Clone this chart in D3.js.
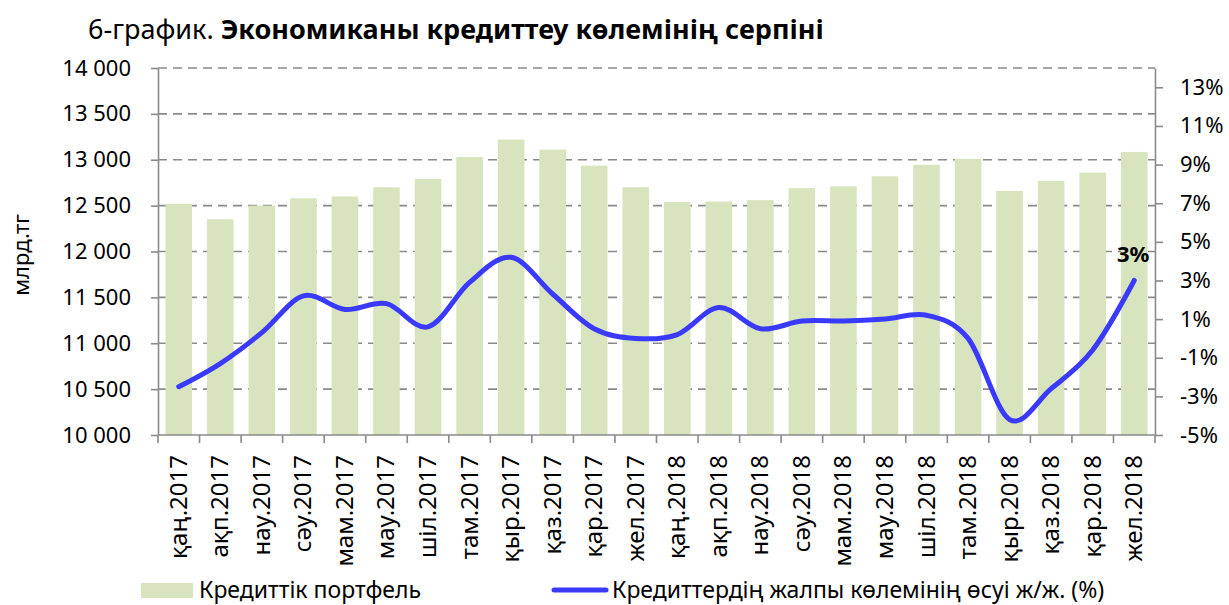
<!DOCTYPE html>
<html>
<head>
  <script src="https://d3js.org/d3.v7.min.js"></script>
  <meta charset="utf-8">
  <title>6-график</title>
  <style>
    body {margin: 0; background: #fff; font-family: "Noto Sans", sans-serif;}
    .grid line {stroke: #8a8a8a; stroke-width: 1.6; stroke-dasharray: 9,6;}
    .axis path, .axis line {stroke: #8a8a8a; stroke-width: 1.6;}
    .axis text {font-family: "Noto Sans", sans-serif; font-size: 21px; fill: #000;}
  </style>
</head>
<body>
<div id="chart"></div>
<script>
  /* Data */
  const categories = ["қаң.2017","ақп.2017","нау.2017","сәу.2017","мам.2017","мау.2017",
                      "шіл.2017","там.2017","қыр.2017","қаз.2017","қар.2017","жел.2017",
                      "қаң.2018","ақп.2018","нау.2018","сәу.2018","мам.2018","мау.2018",
                      "шіл.2018","там.2018","қыр.2018","қаз.2018","қар.2018","жел.2018"];
  const portfolio = [12520, 12350, 12500, 12580, 12600, 12700, 12790, 13030, 13220, 13110, 12935, 12700,
                     12540, 12545, 12560, 12690, 12710, 12820, 12945, 13010, 12660, 12770, 12860, 13085];
  const growth = [-2.5, -1.3, 0.3, 2.2, 1.5, 1.8, 0.6, 2.9, 4.2, 2.3, 0.5, 0.0,
                  0.2, 1.6, 0.5, 0.9, 0.9, 1.0, 1.2, 0.0, -4.2, -2.6, -0.6, 3.0];
  const leftTicks = [10000, 10500, 11000, 11500, 12000, 12500, 13000, 13500, 14000];
  const rightTicks = [-5, -3, -1, 1, 3, 5, 7, 9, 11, 13];

  const W = 1229, H = 605;
  const margin = {top: 68, right: 74, bottom: 170, left: 158};
  const width = W - margin.left - margin.right;
  const height = H - margin.top - margin.bottom;

  const svg = d3.select("#chart").append("svg")
      .attr("width", W).attr("height", H);

  /* Title */
  const title = svg.append("text")
      .attr("x", 88).attr("y", 39)
      .style("font-size", "27px");
  title.append("tspan").text("6-график. ");
  title.append("tspan").style("font-weight", "bold").text("Экономиканы кредиттеу көлемінің серпіні");

  const g = svg.append("g").attr("transform", `translate(${margin.left},${margin.top})`);

  /* Scales */
  const x = d3.scaleBand().domain(categories).range([0, width]).paddingInner(0.36).paddingOuter(0.18);
  const band = d3.scaleBand().domain(categories).range([0, width]);
  const yL = d3.scaleLinear().domain([10000, 14000]).range([height, 0]);
  const yR = d3.scaleLinear().domain([-5, 14]).range([height, 0]);

  /* Grid lines behind the bars */
  g.append("g").attr("class", "grid")
    .selectAll("line").data(leftTicks.slice(1)).join("line")
      .attr("x1", 0).attr("x2", width)
      .attr("y1", d => yL(d)).attr("y2", d => yL(d));

  /* Bars */
  g.append("g").selectAll("rect").data(portfolio).join("rect")
      .attr("x", (d, i) => x(categories[i]))
      .attr("y", d => yL(d))
      .attr("width", x.bandwidth())
      .attr("height", d => height - yL(d))
      .attr("fill", "#d7e4bd");

  /* Axes */
  const fmt = d => d3.format(",")(d).replace(",", " ");
  const left = g.append("g").attr("class", "axis")
      .call(d3.axisLeft(yL).tickValues(leftTicks).tickFormat(fmt).tickSize(7).tickSizeOuter(0).tickPadding(20));
  left.selectAll("text").style("font-size", "22px");

  const right = g.append("g").attr("class", "axis")
      .attr("transform", `translate(${width},0)`)
      .call(d3.axisRight(yR).tickValues(rightTicks).tickFormat(d => d + "%").tickSize(8).tickSizeOuter(0).tickPadding(17));
  right.selectAll("text").style("font-size", "22px");

  const bottom = g.append("g").attr("class", "axis")
      .attr("transform", `translate(0,${height})`);
  bottom.append("line").attr("x1", 0).attr("x2", width);
  bottom.selectAll(".tk").data(d3.range(categories.length + 1)).join("line")
      .attr("class", "tk")
      .attr("x1", i => i * band.step()).attr("x2", i => i * band.step())
      .attr("y1", 0).attr("y2", 8);
  bottom.selectAll("text").data(categories).join("text")
      .attr("transform", d => `translate(${band(d) + band.bandwidth() / 2 + 8},20) rotate(-90)`)
      .attr("text-anchor", "end")
      .style("font-size", "24px")
      .text(d => d);

  /* Left axis title */
  svg.append("text")
      .attr("transform", "translate(29,255) rotate(-90)")
      .attr("text-anchor", "middle")
      .style("font-size", "22px")
      .text("млрд.тг");

  /* Growth line */
  const line = d3.line()
      .x((d, i) => band(categories[i]) + band.bandwidth() / 2)
      .y(d => yR(d))
      .curve(d3.curveCardinal.tension(0));
  g.append("path").datum(growth)
      .attr("d", line)
      .attr("fill", "none")
      .attr("stroke", "#3a3aff")
      .attr("stroke-width", 5)
      .attr("stroke-linecap", "round");

  /* Data label on the last point */
  const last = growth.length - 1;
  g.append("text")
      .attr("x", band(categories[last]) + band.bandwidth() / 2 - 1)
      .attr("y", yR(growth[last]) - 18)
      .attr("text-anchor", "middle")
      .style("font-size", "22px").style("font-weight", "bold")
      .text(growth[last] + "%");

  /* Legend */
  const legend = svg.append("g").style("font-size", "23px");
  legend.append("rect").attr("x", 141).attr("y", 583).attr("width", 52).attr("height", 15).attr("fill", "#d7e4bd");
  legend.append("text").attr("x", 199).attr("y", 598).text("Кредиттік портфель");
  legend.append("line").attr("x1", 554).attr("x2", 606).attr("y1", 590).attr("y2", 590)
      .attr("stroke", "#3a3aff").attr("stroke-width", 5).attr("stroke-linecap", "round");
  legend.append("text").attr("x", 612).attr("y", 598).text("Кредиттердің жалпы көлемінің өсуі ж/ж. (%)");
</script>
</body>
</html>
